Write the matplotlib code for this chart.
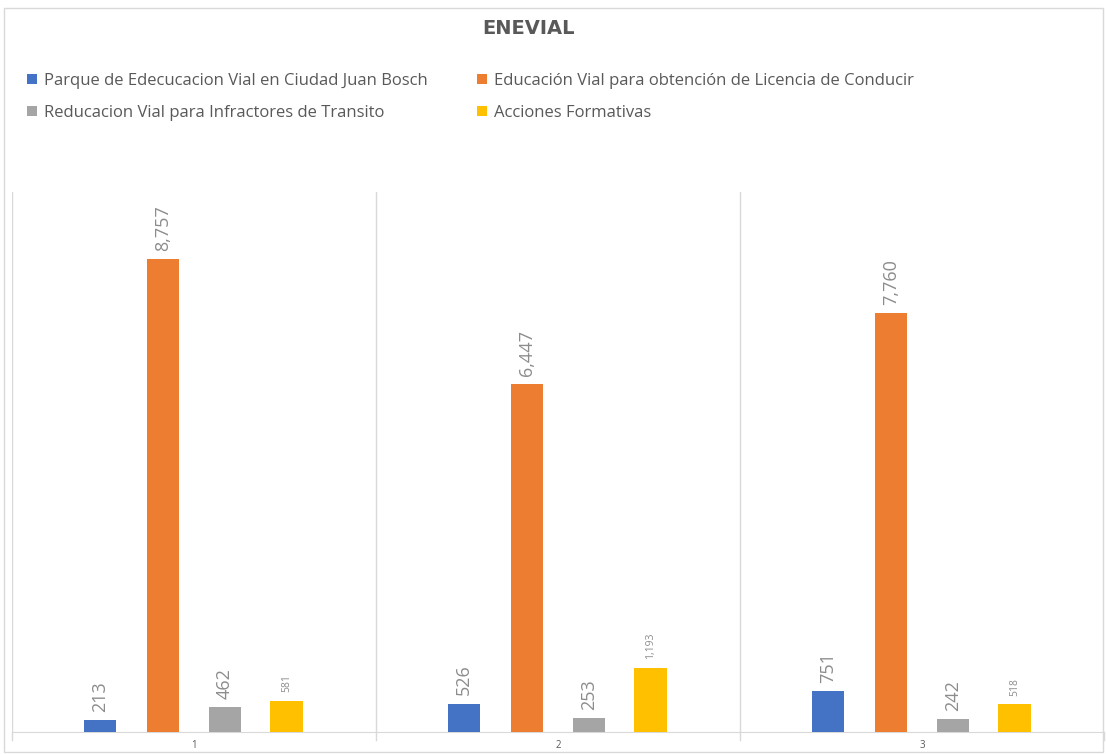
import matplotlib.pyplot as plt
import numpy as np
from matplotlib.patches import Rectangle

plt.rcParams['font.family'] = ['Open Sans', 'DejaVu Sans']

categories = ['1', '2', '3']
series_names = ['Parque de Edecucacion Vial en Ciudad Juan Bosch',
                'Educación Vial para obtención de Licencia de Conducir',
                'Reducacion Vial para Infractores de Transito',
                'Acciones Formativas']
parque = [213, 526, 751]
licencia = [8757, 6447, 7760]
infractores = [462, 253, 242]
formativas = [581, 1193, 518]

colors = ['#4472c4', '#ed7d31', '#a5a5a5', '#ffc000']
label_sizes = [13, 13, 13, 7.5]

fig = plt.figure(figsize=(11.06, 7.54), dpi=100)
fig.patches.append(Rectangle((4 / 1106, 2 / 754), 1099 / 1106, 744 / 754,
                             transform=fig.transFigure, fill=False,
                             edgecolor='#d9d9d9', lw=1))
ax = fig.add_axes([12 / 1106, 22 / 754, 1092 / 1106, 540 / 754])

x = np.arange(len(categories))
offsets = [-0.258, -0.085, 0.085, 0.255]
width = 0.09
data = [parque, licencia, infractores, formativas]
handles = []
for vals, off, c, name, fs in zip(data, offsets, colors, series_names, label_sizes):
    b = ax.bar(x + off, vals, width, color=c, label=name, zorder=3)
    handles.append(b)
    for xi, v in zip(x + off, vals):
        ax.annotate(f'{v:,}', (xi, v), xytext=(0, 6), textcoords='offset points',
                    rotation=90, ha='center', va='bottom', fontsize=fs,
                    color='#8c8c8c')

ax.set_xlim(-0.5, 2.5)
ax.set_ylim(0, 10000)
ax.set_yticks([])
ax.set_xticks(x)
ax.set_xticklabels(categories, fontsize=7, color='#595959')
ax.tick_params(axis='x', length=0, pad=6)
for b in [-0.5, 0.5, 1.5, 2.5]:
    ax.axvline(b, color='#d9d9d9', lw=1, zorder=1)
    ax.plot([b, b], [0, -0.015], transform=ax.get_xaxis_transform(),
            color='#d9d9d9', lw=1, clip_on=False)
for s in ['top', 'left', 'right']:
    ax.spines[s].set_visible(False)
ax.spines['bottom'].set_color('#d9d9d9')

fig.text(528 / 1106, 1 - 28 / 754, 'ENEVIAL', ha='center', va='center',
         fontsize=14, fontweight='bold', color='#595959', family='DejaVu Sans')

# legend is filled row by row in the reference
order = [0, 2, 1, 3]
fig.legend(handles=[handles[i] for i in order], loc='upper left',
           bbox_to_anchor=(12 / 1106, 1 - 58 / 754),
           ncol=2, frameon=False, fontsize=12, labelcolor='#595959',
           handlelength=0.6, handleheight=0.6, handletextpad=0.4,
           columnspacing=3.0, labelspacing=0.95)

fig.savefig('out.png', dpi=100)
